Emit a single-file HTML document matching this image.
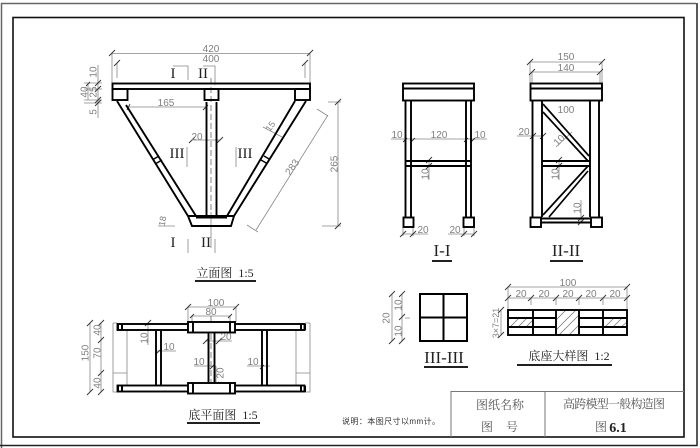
<!DOCTYPE html>
<html><head><meta charset="utf-8"><style>html,body{margin:0;padding:0;background:#fff}svg{display:block}
.d{font-family:"Liberation Sans",sans-serif;font-size:10px;fill:#808080;text-anchor:middle}
.r{font-family:"Liberation Serif",serif;fill:#222;text-anchor:middle}
.c{font-family:"Liberation Serif","Noto Serif CJK SC",serif;fill:#222;text-anchor:middle}
</style></head><body>
<svg width="700" height="448" viewBox="0 0 700 448" xmlns="http://www.w3.org/2000/svg" fill="none">
<rect width="700" height="448" fill="#fff"/>
<path d="M1.5 448V3.5H696" stroke="#666" stroke-width="1.5"/>
<path d="M0 445.5H697V3" stroke="#222" stroke-width="1.5"/>
<rect x="13" y="17.5" width="671" height="419.5" stroke="#111" stroke-width="1.6"/>
<path d="M451 437V391.5H684M545 391.5V437" stroke="#777"/>

<!-- gray dimension lines -->
<path stroke="#888" stroke-width=".8" d="M112 53.5H310M112 53V83M310 53V83M117 63V78M305 63V78
M98 65V118M88 83V100M84 83H102M84 89H102M84 100H102M84 103H102
M127 107H206M192 140H220M263 127L282 137M328 115L256 230M317 109L328 116M247 225L258 232
M338 102V226M328 102H341M322 226H341M158 226H175
M173 66H188V80M203 66H215V85M187 147V167M236 147V167M188 239V253M215 239V253M211 212V248
M188 307H236M188 307V322M236 307V322M192 316H230M192 316V323M230 316V323
M113 323V392H117M113 323H117M127 330V385M113 373H127M296 330V385M310 323V392H305M310 323H305M296 373H310
M90 323V392M101 323V392M205 341H232M148 323V345M155 351H176M194 366H215M216 366V385M247 366H270
M391 139H487M429 160V180M403 234H428M448 234H474M403 227V236M413 227V236M464 227V236M474 227V236M410 101H422M455 101H466
M530 62H602M532 72H600M530 62V83M602 62V83M532 72V83M600 72V83M517 136H543M556 147L572 132M559 160V180M581 200V222M543 101H550M582 101H590
M392 294V341M402 294V341M405 318H410
M508 287H627M508 298H627M508 287V310M627 287V310M531 298V305M556 298V305M579 298V305M603 298V305M501 310V335"/>
<!-- center lines -->
<path stroke="#666" stroke-width=".8" stroke-dasharray="6 3" d="M211 78V212M211 316V392"/>
<!-- ticks -->
<path stroke="#333" stroke-width=".9" d="M109 56l6-6M307 56l6-6M114 66l6-6M302 66l6-6M86 86l4-4M95 86l6-6M95 92l6-6M95 103l6-6M95 106l6-6
M203 110l5-5M189 143l6-6M217 143l6-6M335 105l6-6M335 229l6-6M127 110l3-6
M185 310l6-6M233 310l6-6M190 318l4-4M228 318l4-4M87 326l6-6M98 326l6-6M98 343l6-6M98 376l6-6M87 395l6-6M98 395l6-6
M203 344l6-6M216 344l6-6M145 326l6-6M156 354l4-4M210 369l4-4M260 369l4-4M213 388l6-6
M403 142l4-4M411 142l4-4M464 142l4-4M471 142l4-4M426 163l6-6M426 169l6-6M400 237l6-6M410 237l6-6M461 237l6-6M471 237l6-6
M527 65l6-6M599 65l6-6M529 75l6-6M597 75l6-6M530 139l6-6M540 139l6-6M556 163l6-6M556 169l6-6M578 221l6-6M578 225l6-6
M389 297l6-6M399 297l6-6M399 320l6-6M389 344l6-6M399 344l6-6
M505 290l6-6M624 290l6-6M505 301l6-6M528 301l6-6M553 301l6-6M576 301l6-6M600 301l6-6M624 301l6-6M498 313l6-6M498 338l6-6"/>

<!-- front elevation -->
<g stroke="#000" stroke-width="1.9">
<rect x="112.5" y="83.5" width="197.5" height="5.5"/>
<rect x="112.5" y="89" width="15" height="11"/>
<rect x="204.5" y="89" width="14" height="11"/>
<rect x="295" y="89" width="15" height="11"/>
<path d="M117 101L188 216M126 105L196 216M306 101L234 216M295 101L227 216"/>
<path d="M206.5 102V215M216.5 102V215"/>
<path d="M188 216H234L231 226H192Z"/>
<path d="M153 159.500L159 156M156 163.500L162 160M264 156L270 159.500M261 160L267 163.500" stroke-width="1.4"/>
</g>
<rect x="196" y="215" width="31" height="3.5" fill="#000"/>

<!-- plan -->
<g stroke="#000" stroke-width="1.9">
<rect x="117.5" y="324" width="187" height="6"/>
<rect x="117.5" y="385.5" width="187" height="6"/>
<rect x="188" y="322" width="47" height="10.5" fill="#fff"/>
<rect x="188" y="383" width="47" height="10.5" fill="#fff"/>
<path d="M193 322V332M230 322V332M193 383V393M230 383V393"/>
<path d="M156 331V385M161 331V385M208.500 332V383M214.500 332V383M262 331V385M267 331V385"/>
<path d="M118 324V330M122 324V330M301 324V330M305 324V330M118 386V392M122 386V392M301 386V392M305 386V392" stroke-width="2"/>
</g>

<!-- I-I -->
<g stroke="#000" stroke-width="1.9">
<rect x="403" y="83.500" width="71" height="17"/>
<path d="M403 88.500H474M405.500 101V217M411 101V217M466 101V217M471 101V217M406 161H471M406 166H471"/>
<rect x="403.500" y="217.500" width="10" height="9.500"/>
<rect x="463.500" y="217.500" width="10.500" height="9.500"/>
</g>

<!-- II-II -->
<g stroke="#000" stroke-width="1.9">
<rect x="530.500" y="83.500" width="71.500" height="17"/>
<path d="M530.500 88.500H602M532.500 101V217M542 101V217M590 101V217M599 101V217M542 161H590M542 166H590M541 218.500H591M541 222.500H591"/>
<path d="M543 104L589 156M543 112L588 161M588 166L543 215M588 171L549 217" stroke-width="1.7"/>
<rect x="530.500" y="217.500" width="10.500" height="9.500"/>
<rect x="591" y="217.500" width="11" height="9.500"/>
</g>

<!-- III-III -->
<g stroke="#000" stroke-width="2"><rect x="420" y="294" width="47" height="47"/><path d="M443.500 294V341M420 317.500H467"/></g>

<!-- base detail -->
<g stroke="#777" stroke-width=".8">
<path d="M556 320L566 310M556 330L576 310M559 335L579 315M569 335L579 325M510 327L519 318M518 327L527 318M526 327L533 320M605 327L614 318M613 327L622 318M621 327L627 322"/>
</g>
<g stroke="#000" stroke-width="1.9">
<rect x="508" y="310" width="119" height="25"/>
<path d="M533 310V335M556 310V335M579 310V335M603 310V335M508 318H556M508 327H556M579 318H627M579 327H627"/>
</g>

<!-- title underlines -->
<g stroke="#000" stroke-width="1.8">
<path d="M195 281H256M187 423H260M432 261H452M550 261H583M424 367H468M517 365H612"/>
</g>

<!-- dimension text -->
<g class="d">
<text x="211" y="52">420</text><text x="211" y="62">400</text>
<text x="166" y="106">165</text><text x="197" y="140">20</text>
<text transform="translate(93 72) rotate(-90)" y="3.500">10</text>
<text transform="translate(93 92) rotate(-90)" y="3.500">25</text>
<text transform="translate(84 92) rotate(-90)" y="3.500">40</text>
<text transform="translate(93 112) rotate(-90)" y="3.500">5</text>
<text transform="translate(270 126) rotate(-55)" y="3.500" font-size="9">15</text>
<text transform="translate(292 167) rotate(-55)" y="3.500">283</text>
<text transform="translate(334 164) rotate(-90)" y="3.500">265</text>
<text transform="translate(162 221) rotate(-80)" y="3.500" font-size="9">18</text>
<text x="216" y="306">100</text><text x="211" y="315">80</text>
<text x="226" y="340">20</text><text x="169" y="350">10</text>
<text x="199" y="365">10</text><text x="253" y="365">10</text>
<text transform="translate(144 338) rotate(-90)" y="3.500">10</text>
<text transform="translate(220 373) rotate(-90)" y="3.500">20</text>
<text transform="translate(97 330) rotate(-90)" y="3.500">40</text>
<text transform="translate(97 353) rotate(-90)" y="3.500">70</text>
<text transform="translate(85 353) rotate(-90)" y="3.500">150</text>
<text transform="translate(97 383) rotate(-90)" y="3.500">40</text>
<text x="397" y="138">10</text><text x="439" y="138">120</text><text x="480" y="138">10</text>
<text transform="translate(425 174) rotate(-90)" y="3.500">10</text>
<text x="423" y="233">20</text><text x="455" y="233">20</text>
<text x="566" y="60">150</text><text x="566" y="71">140</text><text x="566" y="113">100</text>
<text x="524" y="135">20</text>
<text transform="translate(559 140) rotate(-45)" y="3.500">10</text>
<text transform="translate(555 174) rotate(-90)" y="3.500">10</text>
<text transform="translate(577 208) rotate(-90)" y="3.500">10</text>
<text transform="translate(386 318) rotate(-90)" y="3.500">20</text>
<text transform="translate(398 305) rotate(-90)" y="3.500">10</text>
<text transform="translate(398 331) rotate(-90)" y="3.500">10</text>
<text x="568" y="286">100</text>
<text x="521" y="297">20</text><text x="544" y="297">20</text><text x="568" y="297">20</text><text x="591" y="297">20</text><text x="615" y="297">20</text>
<text transform="translate(496 323) rotate(-90)" y="3" font-size="9">3×7=21</text>
</g>

<!-- Roman section labels -->
<g class="r" font-size="15">
<text x="173" y="78">I</text><text x="203" y="78">II</text>
<text x="177" y="158">III</text><text x="245" y="158">III</text>
<text x="173" y="247">I</text><text x="206" y="247">II</text>
</g>
<g class="r" font-size="17">
<text x="442" y="256">I-I</text><text x="566" y="256">II-II</text><text x="444" y="363">III-III</text>
</g>

<!-- titles -->
<g class="c" font-size="12">
<text x="225" y="277">立面图&#160;&#160;1:5</text>
<text x="223" y="419">底平面图&#160;&#160;1:5</text>
<text x="569" y="360">底座大样图&#160;&#160;1:2</text>
</g>
<g class="c" font-size="12" style="fill:#555">
<text x="500" y="409" textLength="48" style="fill:#555">图纸名称</text>
<text x="487" y="431" style="fill:#555">图</text><text x="512" y="431" style="fill:#555">号</text>
<text x="614" y="408" textLength="102" style="fill:#555">高跨模型一般构造图</text>
<text x="601" y="431" style="fill:#555">图</text>
</g>
<text x="618" y="432" class="r" font-size="14" font-weight="bold">6.1</text>
<text x="342" y="424" font-family="'Liberation Sans','Noto Sans CJK SC',sans-serif" font-size="8" fill="#333" textLength="98">说明：本图尺寸以mm计。</text>
</svg>
</body></html>
